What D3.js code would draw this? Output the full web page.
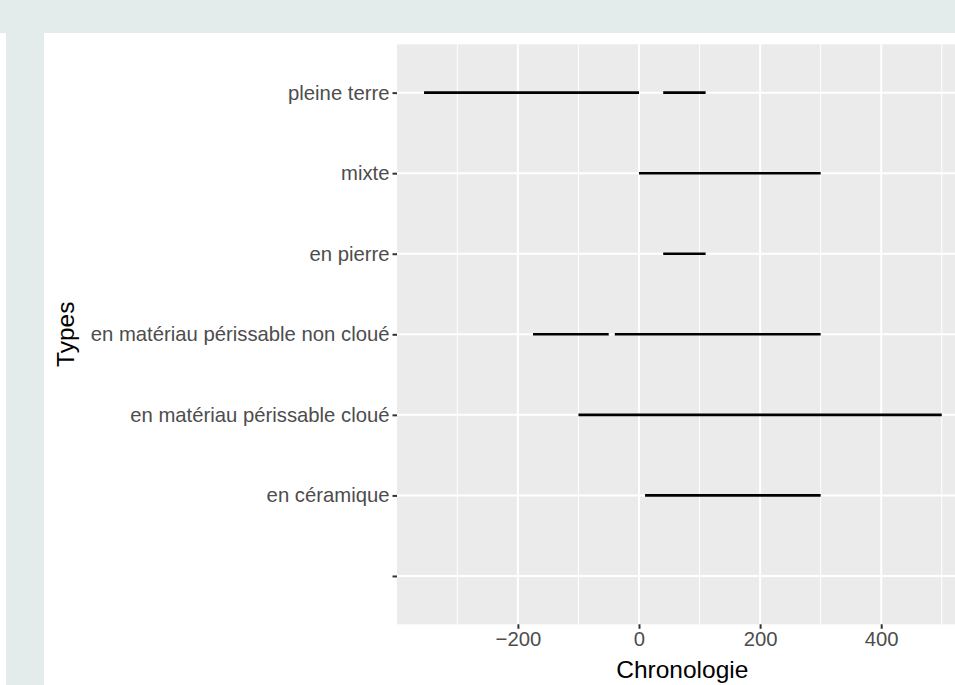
<!DOCTYPE html>
<html>
<head>
<meta charset="utf-8">
<script src="https://cdn.jsdelivr.net/npm/d3@7"></script>
<style>
  html, body { margin: 0; padding: 0; background: #ffffff; }
  svg { display: block; }
  text { font-family: "Liberation Sans", Arial, Helvetica, sans-serif; }
</style>
</head>
<body>
<svg id="chart" width="955" height="685"></svg>
<script>
// ---- data ----
const categories = ["", "en céramique", "en matériau périssable cloué", "en matériau périssable non cloué", "en pierre", "mixte", "pleine terre"];
const segCategory = ["pleine terre", "pleine terre", "mixte", "en pierre", "en matériau périssable non cloué", "en matériau périssable non cloué", "en matériau périssable cloué", "en céramique"];
const segStart = [-355, 40, 0, 40, -175, -40, -100, 10];
const segEnd   = [0, 110, 300, 110, -50, 300, 500, 300];
const xMajorTicks = [-200, 0, 200, 400];
const xMinorTicks = [-300, -100, 100, 300, 500];
const xTitle = "Chronologie";
const yTitle = "Types";

// ---- layout ----
const W = 955, H = 685;
const panel = { left: 397, top: 44.3, bottom: 624.3 };
const pxPerUnit = 0.6055;
const zeroX = 639;

const svg = d3.select("#chart");

// background frame
svg.append("rect").attr("x", 0).attr("y", 0).attr("width", W).attr("height", 33).attr("fill", "#e3ecea");
svg.append("rect").attr("x", 6).attr("y", 33).attr("width", 38).attr("height", H - 33).attr("fill", "#e3ecea");

// scales
const dataMin = d3.min(segStart), dataMax = d3.max(segEnd);
const pad = (dataMax - dataMin) * 0.05;
const xDomain = [dataMin - pad, dataMax + pad];
const x = d3.scaleLinear()
  .domain(xDomain)
  .range([zeroX + xDomain[0] * pxPerUnit, zeroX + xDomain[1] * pxPerUnit]);
const y = d3.scalePoint()
  .domain(categories.slice().reverse())
  .range([panel.top, panel.bottom])
  .padding(0.6);

const panelRight = x.range()[1];

// panel background
svg.append("rect")
  .attr("x", panel.left).attr("y", panel.top)
  .attr("width", panelRight - panel.left).attr("height", panel.bottom - panel.top)
  .attr("fill", "#ebebeb");

const g = svg.append("g");
// minor grid
g.selectAll(".minor").data(xMinorTicks).enter().append("line")
  .attr("x1", d => x(d)).attr("x2", d => x(d))
  .attr("y1", panel.top).attr("y2", panel.bottom)
  .attr("stroke", "#ffffff").attr("stroke-width", 1);
// major grid x
g.selectAll(".majorx").data(xMajorTicks).enter().append("line")
  .attr("x1", d => x(d)).attr("x2", d => x(d))
  .attr("y1", panel.top).attr("y2", panel.bottom)
  .attr("stroke", "#ffffff").attr("stroke-width", 2);
// major grid y
g.selectAll(".majory").data(categories).enter().append("line")
  .attr("x1", panel.left).attr("x2", panelRight)
  .attr("y1", d => y(d)).attr("y2", d => y(d))
  .attr("stroke", "#ffffff").attr("stroke-width", 2);

// segments
const segs = segCategory.map((c, i) => ({ c, s: segStart[i], e: segEnd[i] }));
svg.append("g").selectAll("line").data(segs).enter().append("line")
  .attr("x1", d => x(d.s)).attr("x2", d => x(d.e))
  .attr("y1", d => y(d.c)).attr("y2", d => y(d.c))
  .attr("stroke", "#000000").attr("stroke-width", 2.6)
  .attr("stroke-linecap", "butt");

// x axis
const xAxis = d3.axisBottom(x).tickValues(xMajorTicks).tickSize(4.5).tickPadding(3)
  .tickFormat(d => d < 0 ? "\u2212" + Math.abs(d) : String(d));
const xg = svg.append("g").attr("transform", `translate(0,${panel.bottom})`).call(xAxis);
xg.select(".domain").remove();
xg.selectAll(".tick line").attr("stroke", "#333333").attr("stroke-width", 2);
xg.selectAll(".tick text").attr("fill", "#4d4d4d").attr("font-size", "20.3px")
  .attr("font-family", '"Liberation Sans", Arial, sans-serif');

// y axis
const yAxis = d3.axisLeft(y).tickSize(4.5).tickPadding(3);
const yg = svg.append("g").attr("transform", `translate(${panel.left},0)`).call(yAxis);
yg.select(".domain").remove();
yg.selectAll(".tick line").attr("stroke", "#333333").attr("stroke-width", 2);
yg.selectAll(".tick text").attr("fill", "#4d4d4d").attr("font-size", "20.3px")
  .attr("font-family", '"Liberation Sans", Arial, sans-serif');

// titles
svg.append("text")
  .attr("x", (panel.left + panelRight) / 2).attr("y", 678)
  .attr("text-anchor", "middle").attr("font-size", "24.5px").attr("fill", "#000")
  .text(xTitle);
svg.append("text")
  .attr("transform", `translate(74,${(panel.top + panel.bottom) / 2}) rotate(-90)`)
  .attr("text-anchor", "middle").attr("font-size", "24.5px").attr("fill", "#000")
  .text(yTitle);
</script>
</body>
</html>
